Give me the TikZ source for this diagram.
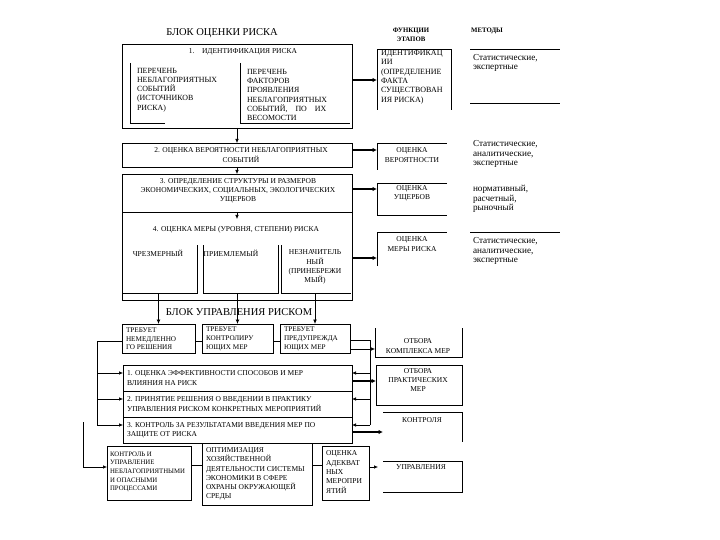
\documentclass[tikz,border=0pt]{standalone}
\usepackage{fontspec}
\setmainfont{Liberation Serif}
\usetikzlibrary{arrows.meta,fit}
\newcommand\fsA{\fontsize{7.5}{9.3}\selectfont}
\newcommand\fsC{\fontsize{7.2}{8.6}\selectfont}
\newcommand\fsD{\fontsize{6.8}{8.6}\selectfont}
\newcommand\fsS{\fontsize{7.9}{9.2}\selectfont}
\newcommand\fsF{\fontsize{8}{9.4}\selectfont}
\newcommand\fsB{\fontsize{9.2}{9.8}\selectfont}
\newcommand\fsT{\fontsize{10.5}{12}\selectfont}
\newcommand\fsH{\fontsize{6.8}{8.5}\selectfont}
\begin{document}
\begin{tikzpicture}[x=1pt,y=-1pt,
  every node/.style={inner sep=0pt, outer sep=0pt},
  box/.style={draw, line width=0.6pt, fit={#1}},
  frame/.style={fit={#1}},
  tx/.style={font=\fsA, align=left, anchor=west},
  tc/.style={font=\fsA, align=center},
  tm/.style={font=\fsB, align=left, anchor=west},
  ttl/.style={font=\fsT},
  hd/.style={font=\fsH\bfseries, align=center},
  ln/.style={line width=0.6pt},
  arr/.style={line width=0.6pt, -{Latex[length=4pt,width=3.5pt]}},
  marr/.style={line width=1pt, -{Latex[length=4.5pt,width=4pt]}},
  tarr/.style={line width=1.4pt, -{Latex[length=4.5pt,width=4.5pt]}}]
\fill[white] (0,0) rectangle (720,540);
\useasboundingbox (0,0) rectangle (720,540);

% ---------- headers ----------
\node[ttl] (title1) at (222,33) {БЛОК ОЦЕНКИ РИСКА};
\node[hd] (hfun) at (411,35) {ФУНКЦИИ\\ЭТАПОВ};
\node[hd] (hmet) at (487,31) {МЕТОДЫ};

% ---------- block 1 ----------
\node[box={(122,44) (352,128)}] (b1) {};
\node[tc] (b1t) at (243,52) {1.\quad ИДЕНТИФИКАЦИЯ РИСКА};
\node[frame={(130,63) (232,123)}] (sl) {};
\node[frame={(240,63) (350,123)}] (sr) {};
\draw[ln] (sl.north west) -- (sl.south west) -- ++(35,0);
\draw[ln] (sr.north west) -- (sr.south west) -- (sr.south east);
\node[tx, font=\fsS] (slt) at (137,90) {ПЕРЕЧЕНЬ\\НЕБЛАГОПРИЯТНЫХ\\СОБЫТИЙ\\(ИСТОЧНИКОВ\\РИСКА)};
\node[tx, font=\fsS] (srt) at (247,95) {ПЕРЕЧЕНЬ\\ФАКТОРОВ\\ПРОЯВЛЕНИЯ\\НЕБЛАГОПРИЯТНЫХ\\СОБЫТИЙ,\quad ПО\quad ИХ\\ВЕСОМОСТИ};

% ---------- block 2, 3, 4 ----------
\node[box={(122,143) (352,167)}] (b2) {};
\node[tc] (b2t) at (241,155) {2. ОЦЕНКА ВЕРОЯТНОСТИ НЕБЛАГОПРИЯТНЫХ\\СОБЫТИЙ};
\node[box={(122,174) (352,212)}] (b3) {};
\node[tc] (b3t) at (238,191) {3. ОПРЕДЕЛЕНИЕ СТРУКТУРЫ И РАЗМЕРОВ\\ЭКОНОМИЧЕСКИХ, СОЦИАЛЬНЫХ, ЭКОЛОГИЧЕСКИХ\\УЩЕРБОВ};
\node[frame={(122,212) (352,300)}] (b4) {};
\draw[ln] (b4.north west) -- (b4.south west) -- (b4.south east) -- (b4.north east);
\coordinate (b4in) at (237,219);
\node[tc] (b4t) at (236,230) {4. ОЦЕНКА МЕРЫ (УРОВНЯ, СТЕПЕНИ) РИСКА};
\node[frame={(123,245) (197,293)}] (s1) {};
\node[frame={(203,245) (278,293)}] (s2) {};
\node[frame={(281,245) (351,293)}] (s3) {};
\draw[ln] (s1.north east) -- (s1.south east) -- (s1.south west);
\draw[ln] (s2.north west) -- (s2.south west) -- (s2.south east) -- (s2.north east);
\draw[ln] (s3.north west) -- (s3.south west) -- (s3.south east);
\node[tc] (s1t) at (158,253) {ЧРЕЗМЕРНЫЙ};
\node[tc] (s2t) at (231,253) {ПРИЕМЛЕМЫЙ};
\node[tc] (s3t) at (315,267) {НЕЗНАЧИТЕЛЬ\\НЫЙ\\(ПРИНЕБРЕЖИ\\МЫЙ)};

\draw[arr] (b1.south) -- (b2.north);
\draw[arr] (b2.south) -- (b3.north);
\draw[arr] (b3.south) -- (b4in);

% ---------- function boxes ----------
\node[frame={(377,49) (451,110)}] (fb1) {};
\draw[ln] (fb1.south west) -- (fb1.north west) -- (fb1.north east) -- (fb1.south east);
\node[tx, font=\fsF] (fb1t) at (381,77) {ИДЕНТИФИКАЦ\\ИИ\\(ОПРЕДЕЛЕНИЕ\\ФАКТА\\СУЩЕСТВОВАН\\ИЯ РИСКА)};
\node[frame={(377,143) (447,170)}] (fb2) {};
\draw[ln] (fb2.south west) -- (fb2.north west) -- (fb2.north east);
\node[tc] (fb2t) at (412,155) {ОЦЕНКА\\ВЕРОЯТНОСТИ};
\node[frame={(377,183) (447,215)}] (fb3) {};
\draw[ln] (fb3.north east) -- (fb3.north west) -- (fb3.south west) -- (fb3.south east);
\node[tc] (fb3t) at (412,193) {ОЦЕНКА\\УЩЕРБОВ};
\node[frame={(377,232) (447,266)}] (fb4) {};
\draw[ln] (fb4.south west) -- (fb4.north west) -- (fb4.north east);
\node[tc] (fb4t) at (412,244) {ОЦЕНКА\\МЕРЫ РИСКА};

\draw[tarr] (b1.east |- 0,80) -- (fb1.west |- 0,80);
\draw[tarr] (b2.east |- 0,150) -- (fb2.west |- 0,150);
\draw[tarr] (b3.east |- 0,189) -- (fb3.west |- 0,189);
\draw[tarr] (b4.east |- 0,258) -- (fb4.west |- 0,258);

% ---------- methods ----------
\draw[ln] (470,49) -- (560,49);
\draw[ln] (470,103) -- (560,103);
\draw[ln] (470,232) -- (560,232);
\node[tm] (mt1) at (473,63) {Статистические,\\экспертные};
\node[tm] (mt2) at (473,154) {Статистические,\\аналитические,\\экспертные};
\node[tm] (mt3) at (473,199) {нормативный,\\расчетный,\\рыночный};
\node[tm] (mt4) at (473,251) {Статистические,\\аналитические,\\экспертные};

% ---------- management block ----------
\node[ttl] (title2) at (239,312) {БЛОК УПРАВЛЕНИЯ РИСКОМ};
\node[box={(122,324) (195,353)}] (tb1) {};
\node[box={(202,324) (273,353)}] (tb2) {};
\node[box={(280,324) (350,353)}] (tb3) {};
\node[tx, font=\fsC] (tb1t) at (126,339) {ТРЕБУЕТ\\НЕМЕДЛЕННО\\ГО РЕШЕНИЯ};
\node[tx, font=\fsC] (tb2t) at (206,339) {ТРЕБУЕТ\\КОНТРОЛИРУ\\ЮЩИХ МЕР};
\node[tx, font=\fsC] (tb3t) at (284,339) {ТРЕБУЕТ\\ПРЕДУПРЕЖДА\\ЮЩИХ МЕР};

\draw[marr] (s1.south -| tb1.north) -- (tb1.north);
\draw[marr] (s2.south -| tb2.north) -- (tb2.north);
\draw[marr] (s3.south -| tb3.north) -- (tb3.north);

\draw[ln] (tb1.east |- 0,341) -- (tb2.west |- 0,341);
\draw[ln] (tb2.east |- 0,341) -- (tb3.west |- 0,341);

\node[box={(123,365) (352,391)}] (m1) {};
\node[box={(123,391) (352,417)}] (m2) {};
\node[box={(123,417) (352,443)}] (m3) {};
\node[tx] (m1t) at (127,378) {1. ОЦЕНКА ЭФФЕКТИВНОСТИ СПОСОБОВ И МЕР\\ВЛИЯНИЯ НА РИСК};
\node[tx] (m2t) at (127,404) {2. ПРИНЯТИЕ РЕШЕНИЯ О ВВЕДЕНИИ В ПРАКТИКУ\\УПРАВЛЕНИЯ РИСКОМ КОНКРЕТНЫХ МЕРОПРИЯТИЙ};
\node[tx] (m3t) at (127,430) {3. КОНТРОЛЬ ЗА РЕЗУЛЬТАТАМИ ВВЕДЕНИЯ МЕР ПО\\ЗАЩИТЕ ОТ РИСКА};

% left bus
\coordinate (lb1) at (97,341);
\coordinate (lb2) at (97,425);
\draw[ln] (tb1.west |- lb1) -- (lb1) -- (lb2);
\draw[arr] (lb1 |- 0,373) -- (m1.west |- 0,373);
\draw[arr] (lb1 |- 0,399) -- (m2.west |- 0,399);
\draw[arr] (lb2) -- (m3.west |- lb2);

% right side boxes
\node[frame={(375,328) (462,357)}] (fk) {};
\draw[ln] (fk.north west) -- (fk.south west) -- (fk.south east) -- (fk.north east);
\node[tc] (fkt) at (418,346) {ОТБОРА\\КОМПЛЕКСА МЕР};
\node[box={(376,365) (462,405)}] (fp) {};
\node[tc] (fpt) at (418,380) {ОТБОРА\\ПРАКТИЧЕСКИХ\\МЕР};
\node[frame={(383,412) (462,442)}] (fc) {};
\draw[ln] (fc.north west) -- (fc.north east) -- (fc.south east);
\node[tc] (fct) at (422,420) {КОНТРОЛЯ};
\node[frame={(378,461) (462,492)}] (fu) {};
\draw[ln] ([xshift=5pt]fu.north west) -- (fu.north east) -- (fu.south east) -- ([xshift=5pt]fu.south west);
\node[tc] (fut) at (421,467) {УПРАВЛЕНИЯ};

% right bus
\coordinate (rb1) at (370,340);
\coordinate (rb2) at (370,425);
\draw[ln] (tb3.east |- rb1) -- (rb1) -- (rb2);
\draw[arr] (rb1 |- 0,373) -- (m1.east |- 0,373);
\draw[arr] (rb1 |- 0,399) -- (m2.east |- 0,399);
\draw[arr] (rb2) -- (m3.east |- rb2);
\draw[arr] (tb3.east |- 0,349) -- (fk.west |- 0,349);
\draw[tarr] (m1.east |- 0,381) -- (fp.west |- 0,381);
\draw[tarr] (m3.east |- 0,432) -- (fc.west |- 0,432);

% ---------- bottom boxes ----------
\node[box={(107,446) (191,500)}] (ba) {};
\node[box={(202,443) (312,505)}] (bb) {};
\node[box={(322,446) (369,500)}] (bc) {};
\node[tx, font=\fsD] (bat) at (110,472) {КОНТРОЛЬ И\\УПРАВЛЕНИЕ\\НЕБЛАГОПРИЯТНЫМИ\\И ОПАСНЫМИ\\ПРОЦЕССАМИ};
\node[tx] (bbt) at (206,474) {ОПТИМИЗАЦИЯ\\ХОЗЯЙСТВЕННОЙ\\ДЕЯТЕЛЬНОСТИ СИСТЕМЫ\\ЭКОНОМИКИ В СФЕРЕ\\ОХРАНЫ ОКРУЖАЮЩЕЙ\\СРЕДЫ};
\node[tx] (bct) at (326,472) {ОЦЕНКА\\АДЕКВАТ\\НЫХ\\МЕРОПРИ\\ЯТИЙ};

\coordinate (lfree) at (83,422);
\draw[arr] (lfree) |- (ba.west |- 0,467);
\draw[ln] (ba.east |- 0,465) -- (bb.west |- 0,465);
\draw[ln] (bb.east |- 0,465) -- (bc.west |- 0,465);
\draw[arr] (bc.east |- 0,467) -- (fu.west |- 0,467);
\end{tikzpicture}
\end{document}
